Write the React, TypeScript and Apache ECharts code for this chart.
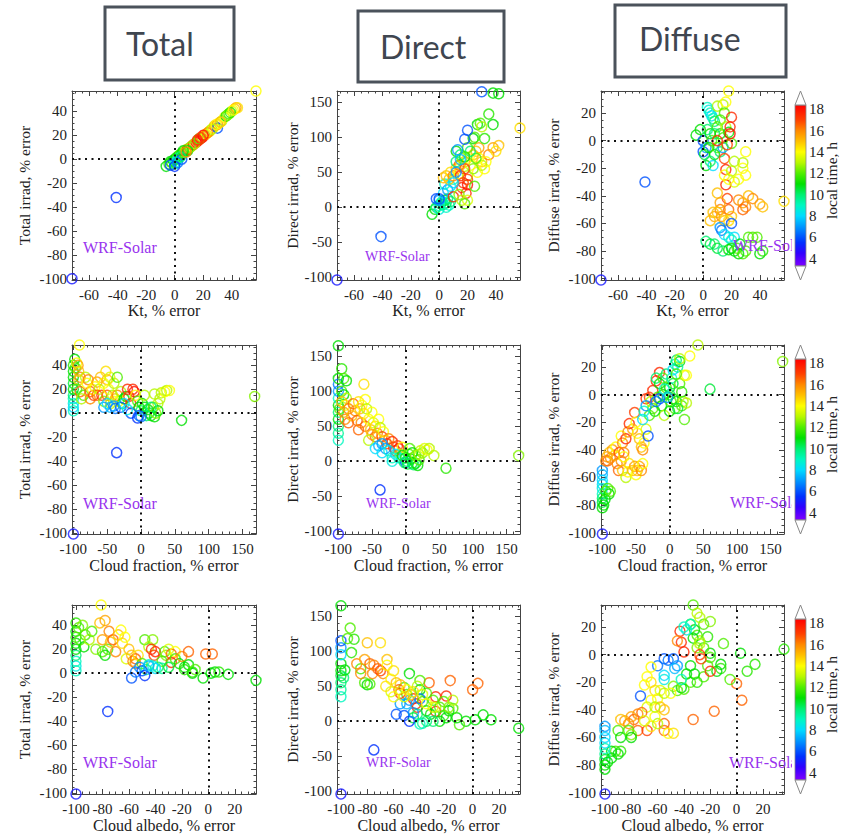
import React, { useEffect, useRef } from 'react';
import * as echarts from 'echarts';

// ---------- labels ----------
const headers = ['Total', 'Direct', 'Diffuse'];
const rowXNames = ['Kt, % error', 'Cloud fraction, % error', 'Cloud albedo, % error'];
const colYNames = ['Total irrad, % error', 'Direct irrad, % error', 'Diffuse irrad, % error'];
const modelLabel = 'WRF-Solar';
const colorbarName = 'local time, h';
const colorbarTicks = [4, 6, 8, 10, 12, 14, 16, 18];
const colorbarRange = [3.3, 18.4];

// axis ranges
const rowXRange = [[-72, 57], [-102, 170], [-103, 36]];
const rowXSplit = [6, 5, 7];
const rowXMinor = [4, 5, 4];
const colYRange = [[-101, 57], [-104, 166], [-101, 36]];
const colYSplit = [8, 5, 7];
const colYMinor = [4, 5, 4];

// ---------- data: [x error, y error, local time] ----------
const ktTotal = [
  [-72, -100, 5], [-41, -32, 5.5], [57, 57, 14],
  [-6, -6, 11], [-4, -4, 11.5], [-3, -2, 11], [-2, -3, 12], [-1, -1, 11], [0, 0, 10.5], [1, 1, 11], [2, 2, 12], [2, 0, 10], [3, 3, 11], [4, 4, 12], [5, 5, 11], [6, 5, 12], [3, 1, 9], [1, -2, 8.5], [0, -4, 9],
  [-3, -5, 6], [0, -6, 5.5], [5, 0, 6], [2, -3, 6.5],
  [7, 6, 12.5], [8, 8, 13], [9, 8, 17.5], [10, 9, 16], [12, 11, 14], [13, 12, 17], [15, 14, 17.5], [16, 15, 18], [17, 16, 17], [18, 17, 17.5], [19, 18, 17.5], [20, 19, 18], [21, 20, 17], [14, 13, 13], [17, 17, 12], [22, 21, 14], [24, 23, 13.5], [25, 24, 15], [27, 26, 14], [28, 28, 15.5], [30, 29, 16], [30, 26, 6], [31, 30, 14], [33, 32, 13], [35, 35, 14], [36, 36, 11], [38, 38, 12], [40, 40, 13.5], [42, 42, 15], [43, 43, 15.5], [44, 43, 14.5],
  [9, 7, 11], [11, 10, 12.5], [6, 7, 11], [4, 2, 10], [8, 6, 16], [23, 22, 16], [26, 25, 13], [29, 29, 14], [37, 37, 12.5], [39, 39, 11.5], [41, 41, 14], [32, 31, 15], [20, 20, 18], [18, 18, 17], [16, 16, 17.5],
];
const ktDirect = [
  [-72, -104, 5], [-41, -42, 6], [57, 113, 14.5], [30, 165, 6], [38, 163, 11], [42, 162, 11],
  [-5, -10, 11], [-3, -3, 11], [-2, 0, 10], [0, 2, 9], [0, -3, 8.5], [1, 5, 10], [2, 8, 9], [3, 4, 10], [4, 10, 11], [5, 0, 9], [5, 6, 10], [6, 12, 10], [7, 3, 9], [8, 8, 10], [-2, 12, 6], [0, 10, 7], [3, 20, 8], [4, 33, 9], [6, 25, 7], [8, 30, 8], [10, 40, 9],
  [3, 42, 15], [5, 45, 15], [7, 40, 15], [8, 50, 14.5], [10, 45, 16], [12, 55, 15], [14, 48, 14], [15, 60, 15], [18, 65, 15.5], [20, 70, 14], [22, 60, 13.5], [24, 75, 15], [26, 80, 15], [28, 85, 15.5], [28, 70, 14], [30, 65, 15], [32, 55, 14], [35, 75, 16], [38, 85, 15.5], [42, 88, 15], [40, 80, 14.5], [27, 50, 14], [30, 60, 13], [33, 65, 14], [24, 55, 12.5], [26, 70, 12], [20, 45, 13],
  [10, 15, 17.5], [16, 28, 17.5], [17, 35, 17], [18, 55, 17], [19, 20, 17.5], [20, 32, 18], [15, 45, 17.5], [14, 60, 16.5], [20, 40, 17],
  [12, 80, 11], [15, 75, 10], [18, 72, 11], [22, 80, 10], [24, 98, 11], [27, 118, 11], [29, 120, 12], [30, 115, 13], [32, 98, 11.5], [35, 133, 11.5], [38, 118, 11], [25, 100, 12], [20, 85, 12], [16, 70, 12.5], [12, 65, 10], [14, 18, 12.5], [16, 10, 13], [20, 10, 13.5], [18, 5, 12], [25, 30, 12],
  [13, 82, 7], [18, 97, 6], [20, 110, 6], [15, 68, 7.5], [12, 50, 7], [10, 35, 8], [0, 12, 6],
];
const ktDiffuse = [
  [-72, -101, 5], [-41, -30, 6], [57, -44, 14.5],
  [-5, 4, 11], [-2, 8, 11], [0, 0, 6], [0, -8, 6], [2, -5, 7], [1, -10, 10.5], [3, 24, 9], [4, 22, 8.5], [5, 20, 9], [6, 18, 8], [7, 16, 9], [8, 14, 10], [3, 8, 10], [5, 5, 11], [6, 0, 12], [4, -5, 11], [2, -18, 11], [7, -18, 8], [8, -10, 11], [10, -5, 12], [12, -8, 10], [14, -5, 7], [5, -15, 10], [10, 10, 12], [12, 5, 11], [8, 5, 10], [10, 25, 13], [14, 26, 13], [16, 28, 14], [18, 36, 14], [15, 20, 12], [12, 15, 12], [16, 10, 13], [18, 6, 11], [20, -2, 12], [14, 2, 12],
  [10, 0, 17.5], [17, -3, 17], [19, 10, 17.5], [20, 17, 17.5], [15, -13, 17], [16, -21, 17.5], [16, -32, 17.5], [17, -42, 17], [18, -50, 16.5], [12, -50, 16], [19, 5, 18],
  [15, -25, 14], [18, -28, 14], [20, -22, 13], [22, -15, 13], [25, -28, 14], [28, -16, 13], [28, -20, 14], [30, -25, 14], [30, -8, 14], [22, -30, 13.5], [10, -38, 15], [12, -45, 15.5], [8, -55, 15.5], [10, -52, 15], [13, -55, 16], [15, -58, 15], [5, -58, 15], [7, -52, 15], [25, -43, 16], [28, -45, 15.5], [30, -48, 16], [32, -40, 15], [35, -42, 16], [40, -46, 15.5], [42, -48, 15], [28, -50, 16.5], [20, -55, 15], [18, -58, 14.5],
  [12, -63, 7], [13, -65, 6.5], [15, -68, 8], [18, -70, 8.5], [20, -72, 9], [22, -70, 8], [20, -60, 6],
  [2, -73, 10], [5, -75, 10.5], [8, -75, 10], [10, -78, 10.5], [14, -80, 10], [18, -79, 11], [20, -78, 11], [22, -80, 11], [24, -78, 12], [26, -75, 11], [30, -80, 12], [28, -82, 12], [32, -70, 12], [35, -70, 12], [38, -70, 12], [40, -82, 11], [42, -80, 11.5], [25, -82, 11],
];
const cfTotal = [
  [-100, -101, 5], [-36, -33, 5.5], [60, -6, 11], [168, 14, 12.5], [-91, 57, 14],
  [-100, 2, 9], [-100, 5, 8], [-100, 8, 8.5], [-100, 12, 9], [-100, 15, 10], [-100, 20, 11], [-100, 25, 10.5], [-100, 30, 11], [-100, 35, 11], [-100, 40, 11.5], [-98, 45, 11], [-97, 38, 12], [-95, 42, 14], [-93, 40, 15.5], [-92, 35, 15], [-90, 30, 16], [-92, 28, 15], [-95, 20, 12], [-90, 18, 16.5], [-88, 12, 13], [-85, 15, 12], [-82, 30, 13], [-80, 25, 14], [-78, 28, 16], [-75, 18, 16.5], [-75, 12, 16], [-72, 20, 14], [-70, 15, 17], [-68, 22, 14], [-65, 26, 15.5], [-65, 15, 16.5], [-62, 20, 13], [-60, 30, 15], [-58, 15, 17], [-55, 10, 12.5], [-55, 25, 14], [-52, 35, 14.5], [-50, 28, 15], [-50, 15, 16.5], [-48, 20, 14], [-46, 30, 13.5], [-45, 8, 13], [-42, 15, 13], [-40, 10, 14], [-40, 25, 13], [-38, 12, 15], [-35, 15, 16], [-35, 30, 12], [-33, 10, 14], [-30, 18, 13], [-28, 8, 12], [-25, 12, 11], [-22, 14, 11], [-20, 20, 17.5], [-18, 14, 17], [-15, 8, 17.5], [-12, 20, 17.5], [-10, 18, 18], [-8, 15, 14], [-5, 10, 12], [-3, 5, 11], [0, 2, 10], [2, 8, 11], [5, 15, 13], [5, 5, 11], [8, -2, 10], [10, 3, 11], [12, 0, 10.5], [15, -2, 11], [18, 5, 12], [20, -3, 11], [22, 0, 12.5], [25, 8, 13], [28, 12, 13], [30, 17, 13], [35, 18, 14], [38, 19, 13], [42, 19, 14], [20, 16, 13], [25, 2, 11], [15, 5, 10],
  [-55, 5, 7], [-50, 8, 8], [-45, 5, 7.5], [-40, 6, 7], [-38, 4, 6.5], [-30, 5, 6], [-25, 8, 8], [-15, 0, 6], [-5, -4, 5.5], [-3, -2, 6], [0, -3, 6.5], [-20, 3, 8.5],
];
const cfDirect = [
  [-100, -104, 5], [-38, -41, 5.5], [60, -10, 11.5], [168, 8, 12.5], [-100, 165, 11],
  [-100, 30, 9], [-100, 40, 9.5], [-100, 50, 10], [-100, 60, 11], [-100, 70, 10], [-100, 80, 11], [-100, 90, 9], [-100, 100, 7], [-100, 110, 6.5], [-100, 118, 11], [-98, 75, 12],
  [-95, 132, 11.5], [-92, 118, 12], [-88, 115, 11], [-95, 100, 12], [-92, 95, 11], [-88, 90, 13], [-90, 80, 14],
  [-62, 110, 14.5], [-60, 88, 14], [-95, 85, 15], [-92, 70, 15.5], [-90, 60, 16], [-85, 55, 16.5], [-85, 75, 16], [-80, 65, 15], [-78, 82, 16.5], [-75, 72, 16], [-72, 58, 16.5], [-70, 45, 16.5], [-70, 85, 14.5], [-68, 75, 15], [-66, 55, 16], [-65, 80, 14], [-62, 68, 14.5], [-60, 50, 16.5], [-58, 75, 13], [-55, 60, 14], [-52, 45, 15], [-50, 70, 14], [-48, 55, 13.5], [-45, 35, 16.5], [-45, 50, 14.5], [-42, 40, 16], [-40, 60, 14], [-38, 48, 13], [-35, 35, 17], [-33, 42, 14], [-30, 30, 15], [-28, 25, 17], [-25, 32, 16], [-20, 28, 17.5], [-18, 20, 17], [-15, 15, 17.5], [-12, 22, 17], [-10, 18, 17.5], [-8, 10, 13], [-5, 20, 14], [-50, 38, 15.5], [-55, 30, 13],
  [-45, 18, 8], [-40, 22, 7.5], [-35, 25, 7], [-35, 12, 8], [-30, 18, 7], [-25, 15, 8.5], [-20, 5, 9], [-15, 10, 8], [-10, 5, 9], [-5, 3, 9], [0, -2, 6], [-20, 0, 8.5],
  [-5, 8, 11], [0, 5, 11], [2, 0, 10], [5, 10, 12], [8, 3, 11], [10, -3, 10.5], [12, -5, 10], [15, -3, 11], [18, -6, 11], [20, 2, 12], [22, 15, 13], [25, 12, 12.5], [28, 18, 13.5], [32, 16, 14], [35, 18, 13], [42, 8, 13], [-2, -2, 10], [3, -4, 10.5], [6, 18, 12], [10, 12, 11], [15, 8, 12.5], [20, 10, 13],
];
const cfDiffuse = [
  [-100, -101, 5], [168, 24, 12.5], [60, 4, 10.5], [42, 36, 13],
  [-100, -55, 7], [-100, -58, 7.5], [-100, -62, 8], [-100, -65, 8], [-100, -68, 8.5], [-100, -72, 9], [-100, -75, 10], [-100, -78, 10.5], [-100, -82, 11], [-98, -80, 11], [-96, -76, 11], [-95, -70, 11.5], [-92, -68, 12], [-90, -72, 11], [-88, -70, 12],
  [-95, -48, 16], [-93, -45, 15.5], [-92, -48, 16.5], [-90, -42, 15], [-88, -46, 16], [-85, -40, 15.5], [-82, -44, 15], [-80, -38, 14], [-78, -50, 16], [-76, -55, 16.5], [-75, -42, 17], [-72, -48, 16], [-70, -55, 15], [-68, -45, 14], [-65, -60, 13], [-62, -56, 14], [-60, -50, 14.5], [-55, -55, 15], [-52, -52, 15.5], [-50, -58, 14], [-48, -55, 15], [-45, -52, 15.5], [-42, -55, 16], [-40, -50, 14], [-68, -42, 16], [-72, -30, 14], [-70, -35, 16], [-65, -32, 17.5], [-62, -27, 16], [-60, -21, 17.5], [-55, -25, 15.5], [-52, -13, 17], [-50, -20, 14], [-48, -28, 14], [-45, -32, 15], [-42, -38, 15], [-40, -40, 16], [-38, -35, 14], [-35, -25, 13.5], [-35, -3, 17.5], [-30, -2, 17], [-25, 3, 17.5], [-20, 10, 17.5], [-15, 16, 17.5], [-18, -2, 12], [-10, 0, 11], [-5, 5, 12], [-12, -8, 11], [-8, -15, 13], [-25, -10, 12], [-22, -12, 11], [-28, -5, 13], [-30, -15, 12], [-32, -30, 6], [-20, -5, 6.5], [-15, -3, 6], [-35, -8, 7], [-40, -18, 8], [-38, -12, 9],
  [-20, 12, 10], [-15, 8, 11], [-10, 12, 12], [-5, 15, 10], [0, 5, 11], [0, 0, 10], [2, -5, 12], [5, 8, 10.5], [5, -3, 11], [8, -10, 12], [10, -5, 11], [3, 12, 9], [5, 18, 8], [8, 22, 9], [10, 25, 10], [15, 24, 11], [12, 20, 9.5], [15, 8, 12], [18, -8, 12], [20, -5, 13], [22, -18, 12], [25, -6, 13], [22, 14, 13.5], [25, 14, 14], [30, 28, 14], [15, 26, 13], [10, 15, 12], [0, -12, 11], [-3, -2, 7], [-8, 4, 9], [12, -10, 10.5], [18, 2, 11.5],
];
const caTotal = [
  [-100, -101, 5], [-76, -32, 5.5], [-81, 57, 14], [36, -6, 11],
  [-2, 16, 16.5], [3, 16, 16.5], [-4, -4, 11], [2, 0, 11], [5, 1, 11], [8, 1, 11.5], [15, -1, 11],
  [-100, 2, 9], [-100, 6, 8.5], [-100, 10, 9], [-100, 15, 10], [-100, 20, 11], [-100, 25, 11], [-100, 30, 11.5], [-100, 35, 11], [-100, 42, 11.5], [-98, 38, 12], [-97, 28, 12], [-95, 40, 12.5], [-94, 22, 11], [-93, 32, 12], [-90, 28, 13], [-88, 35, 12], [-85, 20, 12.5], [-82, 42, 15], [-80, 28, 15.5], [-78, 44, 15.5], [-75, 35, 16], [-80, 18, 12], [-78, 15, 11], [-76, 20, 12], [-74, 26, 15], [-72, 28, 16.5], [-70, 18, 16], [-68, 32, 15], [-66, 36, 14], [-65, 25, 14.5], [-63, 30, 14], [-62, 12, 13.5], [-60, 20, 15], [-58, 15, 15], [-57, 10, 16], [-55, 12, 16.5], [-55, 8, 16], [-53, 15, 14.5], [-50, 8, 12], [-48, 28, 12], [-45, 22, 13], [-42, 28, 12.5], [-43, 20, 17.5], [-41, 15, 17], [-40, 18, 17.5], [-38, 5, 10], [-35, 4, 9.5], [-33, 18, 12], [-32, 15, 12.5], [-30, 20, 13.5], [-28, 16, 16.5], [-28, 9, 17.5], [-25, 18, 14], [-25, 12, 12], [-22, 8, 11], [-20, 14, 16], [-18, 5, 11], [-18, 3, 11.5], [-15, 7, 11], [-15, 18, 16.5], [-12, 0, 11], [-12, 1, 11.5], [-10, 3, 12], [-35, 10, 12], [-30, 5, 10.5], [-45, 7, 9], [-42, 6, 8.5], [-40, 4, 8], [-47, 3, 9.5],
  [-58, -4, 6], [-55, 1, 6.5], [-52, 5, 7], [-50, 2, 6], [-48, -2, 5.5], [-45, 6, 7.5],
];
const caDirect = [
  [-100, -104, 5], [-75, -41, 5.5], [-100, 165, 11], [35, -10, 11],
  [0, 45, 16.5], [4, 54, 16.5], [-17, 58, 16.5], [-20, 36, 17.5], [-28, 35, 17.5], [-28, 14, 17.5], [-33, 55, 16.5], [-42, 20, 17.5], [-43, 25, 17.5], [-45, 32, 17.5],
  [-5, 0, 11], [2, 2, 11], [8, 9, 11], [14, 2, 11], [-10, -5, 12], [-12, 5, 11], [-15, 18, 12], [-18, 15, 11], [-20, 5, 11], [-22, 8, 11.5], [-25, 0, 11], [-25, 20, 12], [-28, 20, 13], [-30, 30, 12], [-32, 10, 11], [-35, 15, 11], [-35, 40, 12], [-38, 28, 12], [-40, 45, 11], [-40, 58, 12], [-42, 10, 10], [-45, 5, 10.5], [-38, -3, 9.5], [-35, 0, 10], [-40, -4, 9], [-30, 0, 10], [-48, 68, 11], [-50, 38, 12], [-52, 48, 12], [-22, 28, 12], [-18, 20, 12.5], [-15, 30, 13],
  [-58, 10, 6], [-52, 8, 6], [-48, 0, 5.5], [-45, 12, 7], [-50, 25, 7.5], [-55, 25, 7], [-40, 32, 6.5], [-48, 30, 7],
  [-100, 35, 9], [-100, 45, 9.5], [-100, 55, 10], [-100, 65, 10.5], [-100, 72, 11], [-100, 82, 11], [-100, 95, 8], [-100, 105, 7], [-100, 115, 6], [-98, 62, 10], [-97, 73, 11], [-95, 118, 12], [-93, 133, 12], [-90, 117, 11.5], [-92, 98, 11.5], [-85, 75, 12], [-82, 55, 12], [-80, 52, 11], [-78, 53, 12],
  [-88, 82, 16], [-85, 68, 16], [-82, 88, 15.5], [-80, 112, 15], [-78, 82, 16.5], [-76, 68, 16], [-75, 80, 16], [-72, 75, 16.5], [-70, 112, 14.5], [-70, 72, 17], [-68, 68, 16], [-65, 88, 15], [-65, 80, 14], [-62, 60, 14], [-60, 72, 14.5], [-58, 55, 15], [-56, 45, 16.5], [-55, 40, 17], [-55, 52, 15], [-52, 35, 13.5], [-50, 45, 14], [-47, 38, 15], [-45, 42, 14.5], [-42, 50, 13], [-38, 38, 13.5], [-35, 25, 14], [-30, 20, 13.5], [-60, 35, 14], [-62, 42, 13.5], [-66, 50, 14.5],
];
const caDiffuse = [
  [-100, -101, 5], [36, 4, 11.5], [-33, 36, 12],
  [0, -21, 16.5], [4, -33, 16.5], [-17, -41, 16.5], [-33, -47, 16.5],
  [-5, -18, 12], [3, 1, 11], [8, -12, 11.5], [14, -7, 11.5], [-10, 8, 12], [-12, -7, 11], [-12, -10, 11.5], [-15, -12, 11], [-20, -2, 12], [-20, 1, 11], [-22, -8, 12], [-25, -16, 12], [-22, 13, 11.5], [-25, 22, 12], [-20, 24, 12.5], [-28, 27, 13], [-30, 30, 13], [-28, 10, 13], [-30, 14, 12], [-32, 18, 11], [-35, 22, 12], [-33, 12, 11], [-30, 5, 12.5], [-25, 5, 12], [-28, 8, 13], [-35, -20, 12], [-32, -14, 11], [-38, -14, 11], [-35, -8, 11], [-40, -25, 12], [-42, -24, 11], [-45, -26, 12], [-48, -23, 12.5], [-30, -20, 11.5],
  [-43, 17, 17.5], [-42, 9, 17.5], [-40, 2, 17.5], [-28, 0, 17], [-27, -3, 17], [-20, -12, 17.5], [-45, 10, 16],
  [-40, 20, 9], [-38, 18, 8.5], [-35, 22, 9], [-55, -3, 6], [-52, -4, 6.5], [-48, -3, 6], [-45, -8, 7], [-47, -10, 7.5], [-60, -8, 6.5], [-55, -15, 8], [-55, -18, 8.5], [-42, -18, 9], [-73, -30, 6],
  [-65, -9, 14], [-65, -20, 14.5], [-68, -16, 14], [-70, -22, 14], [-62, -26, 14.5], [-60, -32, 14], [-58, -26, 13.5], [-55, -28, 13], [-65, -33, 14], [-68, -38, 13.5], [-72, -42, 16.5], [-75, -43, 16], [-78, -47, 16.5], [-80, -45, 15.5], [-85, -48, 15.5], [-88, -47, 15], [-82, -50, 16], [-75, -55, 16.5], [-68, -55, 17], [-65, -52, 14.5], [-62, -45, 14], [-58, -38, 15], [-55, -40, 15], [-55, -50, 16.5], [-55, -55, 16.5], [-52, -57, 14], [-60, -50, 13], [-48, -57, 14.5], [-70, -48, 13.5], [-62, -38, 13], [-50, -28, 14],
  [-90, -55, 12], [-88, -60, 11], [-82, -55, 12], [-80, -58, 12.5], [-80, -60, 11], [-92, -70, 12], [-90, -72, 11], [-88, -70, 11.5], [-95, -75, 11], [-95, -70, 11],
  [-100, -52, 7], [-100, -55, 7.5], [-100, -60, 8], [-100, -64, 8], [-100, -68, 9], [-100, -72, 9.5], [-100, -76, 10.5], [-100, -80, 11], [-100, -83, 11], [-98, -78, 11],
];

const panels = [
  [ktTotal, ktDirect, ktDiffuse],
  [cfTotal, cfDirect, cfDiffuse],
  [caTotal, caDirect, caDiffuse],
];

// ---------- colour map (rainbow) ----------
const COLOR_STOPS: [number, string][] = [
  [3.3, '#8000ff'], [4.5, '#3000ff'], [5.5, '#0030ff'], [7, '#0098ff'], [8, '#00dcff'],
  [9, '#00f8c0'], [10, '#00f070'], [11, '#00e000'], [12, '#50ee00'], [13, '#b8f800'],
  [14, '#ffff00'], [15, '#ffc000'], [16, '#ff8800'], [17, '#ff4000'], [18.4, '#ff0000'],
];
function hexToRgb(h: string) {
  const n = parseInt(h.slice(1), 16);
  return [(n >> 16) & 255, (n >> 8) & 255, n & 255];
}
function timeColor(t: number) {
  if (t <= COLOR_STOPS[0][0]) return COLOR_STOPS[0][1];
  for (let i = 1; i < COLOR_STOPS.length; i++) {
    if (t <= COLOR_STOPS[i][0]) {
      const [v0, c0] = COLOR_STOPS[i - 1];
      const [v1, c1] = COLOR_STOPS[i];
      const f = (t - v0) / (v1 - v0);
      const a = hexToRgb(c0), b = hexToRgb(c1);
      const c = a.map((x, k) => Math.round(x + (b[k] - x) * f));
      return `rgb(${c[0]},${c[1]},${c[2]})`;
    }
  }
  return COLOR_STOPS[COLOR_STOPS.length - 1][1];
}

// ---------- layout ----------
const SERIF = 'Liberation Serif, Times New Roman, serif';
const colLeft = [72, 337, 601];
const colWidth = [184, 183, 183];
const rowTop = [91, 345, 605];
const rowHeight = 189;
const xNameGap = [21, 23, 23];
const yNameGap = [40, 22, 40];
const labelPos = [
  [[83, 247], [365, 256], [733, 245]],
  [[83, 503], [366, 503], [730, 502]],
  [[83, 762], [366, 762], [729, 762]],
];
const headerBoxes = [
  { x: 105, y: 7, w: 129, h: 73, tx: 126, ty: 43 },
  { x: 358, y: 11, w: 146, h: 71, tx: 380, ty: 46 },
  { x: 615, y: 5, w: 171, h: 72, tx: 639, ty: 38 },
];

const lineCol = '#444';

function buildOption() {
  const grids: any[] = [];
  const xAxes: any[] = [];
  const yAxes: any[] = [];
  const series: any[] = [];
  const graphic: any[] = [];

  for (let r = 0; r < 3; r++) {
    for (let c = 0; c < 3; c++) {
      const gi = r * 3 + c;
      grids.push({ left: colLeft[c], top: rowTop[r], width: colWidth[c], height: rowHeight, containLabel: false, show: false });
      for (const pos of ['bottom', 'top']) {
        const main = pos === 'bottom';
        xAxes.push({
          type: 'value', gridIndex: gi, position: pos,
          min: rowXRange[r][0], max: rowXRange[r][1], splitNumber: rowXSplit[r],
          axisLine: { show: true, onZero: false, lineStyle: { color: lineCol, width: 1 } },
          axisTick: { show: true, inside: true, length: 5, lineStyle: { color: lineCol } },
          minorTick: { show: true, splitNumber: rowXMinor[r], length: 2.5, lineStyle: { color: lineCol } },
          splitLine: { show: false },
          axisLabel: main
            ? { show: true, showMinLabel: false, showMaxLabel: false, margin: 7, color: '#222', fontFamily: SERIF, fontSize: 15 }
            : { show: false },
          name: main ? rowXNames[r] : '',
          nameLocation: 'middle', nameGap: xNameGap[r],
          nameTextStyle: { color: '#222', fontFamily: SERIF, fontSize: 16 },
        });
      }
      for (const pos of ['left', 'right']) {
        const main = pos === 'left';
        yAxes.push({
          type: 'value', gridIndex: gi, position: pos,
          min: colYRange[c][0], max: colYRange[c][1], splitNumber: colYSplit[c],
          axisLine: { show: true, onZero: false, lineStyle: { color: lineCol, width: 1 } },
          axisTick: { show: true, inside: true, length: 5, lineStyle: { color: lineCol } },
          minorTick: { show: true, splitNumber: colYMinor[c], length: 2.5, lineStyle: { color: lineCol } },
          splitLine: { show: false },
          axisLabel: main
            ? { show: true, showMinLabel: false, showMaxLabel: false, margin: 5, color: '#222', fontFamily: SERIF, fontSize: 15 }
            : { show: false },
          name: main ? colYNames[c] : '',
          nameLocation: 'middle', nameGap: yNameGap[c],
          nameTextStyle: { color: '#222', fontFamily: SERIF, fontSize: 15.5 },
        });
      }
      const pts = panels[r][c];
      series.push({
        type: 'scatter', xAxisIndex: 2 * gi, yAxisIndex: 2 * gi,
        symbol: 'circle', symbolSize: 10, silent: true,
        data: pts.map((p) => ({
          value: [p[0], p[1]],
          itemStyle: { color: 'rgba(255,255,255,0)', borderColor: timeColor(p[2]), borderWidth: 1.5 },
        })),
        markLine: {
          silent: true, symbol: ['none', 'none'], label: { show: false },
          lineStyle: { color: '#111', type: [2, 4.5], width: 2 },
          emphasis: { disabled: true },
          data: [{ xAxis: 0 }, { yAxis: 0 }],
        },
      });
      const [lx, ly] = labelPos[r][c];
      graphic.push({
        type: 'text', x: lx, y: ly, z: 3,
        style: { text: modelLabel, fill: '#9933ee', fontSize: c === 1 ? 14 : 16, fontFamily: SERIF, align: 'left', verticalAlign: 'middle' },
      });
    }

    // colour bar for row r
    const boxTop = rowTop[r];
    const boxBottom = rowTop[r] + rowHeight;
    const barX = 795, barW = 11, tri = 14;
    const barTop = boxTop + tri, barBottom = boxBottom - tri;
    const span = colorbarRange[1] - colorbarRange[0];
    const vy = (v: number) => barBottom - ((v - colorbarRange[0]) / span) * (barBottom - barTop);
    graphic.push({
      type: 'rect', z: 5, shape: { x: 792, y: boxTop - 4, width: 55, height: rowHeight + 8 },
      style: { fill: '#fff' },
    });
    graphic.push({
      type: 'rect', z: 6, shape: { x: barX, y: barTop, width: barW, height: barBottom - barTop },
      style: {
        fill: {
          type: 'linear', x: 0, y: 1, x2: 0, y2: 0,
          colorStops: COLOR_STOPS.map(([v, col]) => ({ offset: (v - colorbarRange[0]) / span, color: col })),
        },
        stroke: '#888', lineWidth: 0.8,
      },
    });
    graphic.push({
      type: 'polygon', z: 6,
      shape: { points: [[barX, barTop], [barX + barW, barTop], [barX + barW / 2, boxTop]] },
      style: { fill: '#fff', stroke: '#888', lineWidth: 1 },
    });
    graphic.push({
      type: 'polygon', z: 6,
      shape: { points: [[barX, barBottom], [barX + barW, barBottom], [barX + barW / 2, boxBottom]] },
      style: { fill: '#fff', stroke: '#888', lineWidth: 1 },
    });
    for (const t of colorbarTicks) {
      graphic.push({
        type: 'text', z: 6, x: barX + barW + 3, y: vy(t),
        style: { text: String(t), fill: '#222', fontSize: 15, fontFamily: SERIF, align: 'left', verticalAlign: 'middle' },
      });
    }
    graphic.push({
      type: 'text', z: 6, x: 831, y: (barTop + barBottom) / 2 - 5, rotation: Math.PI / 2,
      style: { text: colorbarName, fill: '#222', fontSize: 15.5, fontFamily: SERIF, align: 'center', verticalAlign: 'middle' },
    });
  }

  headers.forEach((h, i) => {
    const b = headerBoxes[i];
    graphic.push({
      type: 'rect', z: 6, shape: { x: b.x, y: b.y, width: b.w, height: b.h },
      style: { fill: '#fff', stroke: '#4b525b', lineWidth: 3 },
    });
    graphic.push({
      type: 'text', z: 7, x: b.tx, y: b.ty,
      style: { text: h, fill: '#3f4650', fontSize: 32, fontFamily: 'Lato, Open Sans, sans-serif', align: 'left', verticalAlign: 'middle' },
    });
  });

  return {
    animation: false,
    backgroundColor: '#fff',
    grid: grids,
    xAxis: xAxes,
    yAxis: yAxes,
    series,
    graphic: { elements: graphic },
  };
}

export default function App() {
  const ref = useRef<HTMLDivElement>(null);
  useEffect(() => {
    if (!ref.current) return;
    const chart = echarts.init(ref.current, undefined, { renderer: 'svg' });
    chart.setOption(buildOption() as any);
    return () => chart.dispose();
  }, []);
  return (
    <div
      ref={ref}
      style={{ position: 'fixed', left: 0, top: 0, width: 847, height: 836, background: '#fff' }}
    />
  );
}
